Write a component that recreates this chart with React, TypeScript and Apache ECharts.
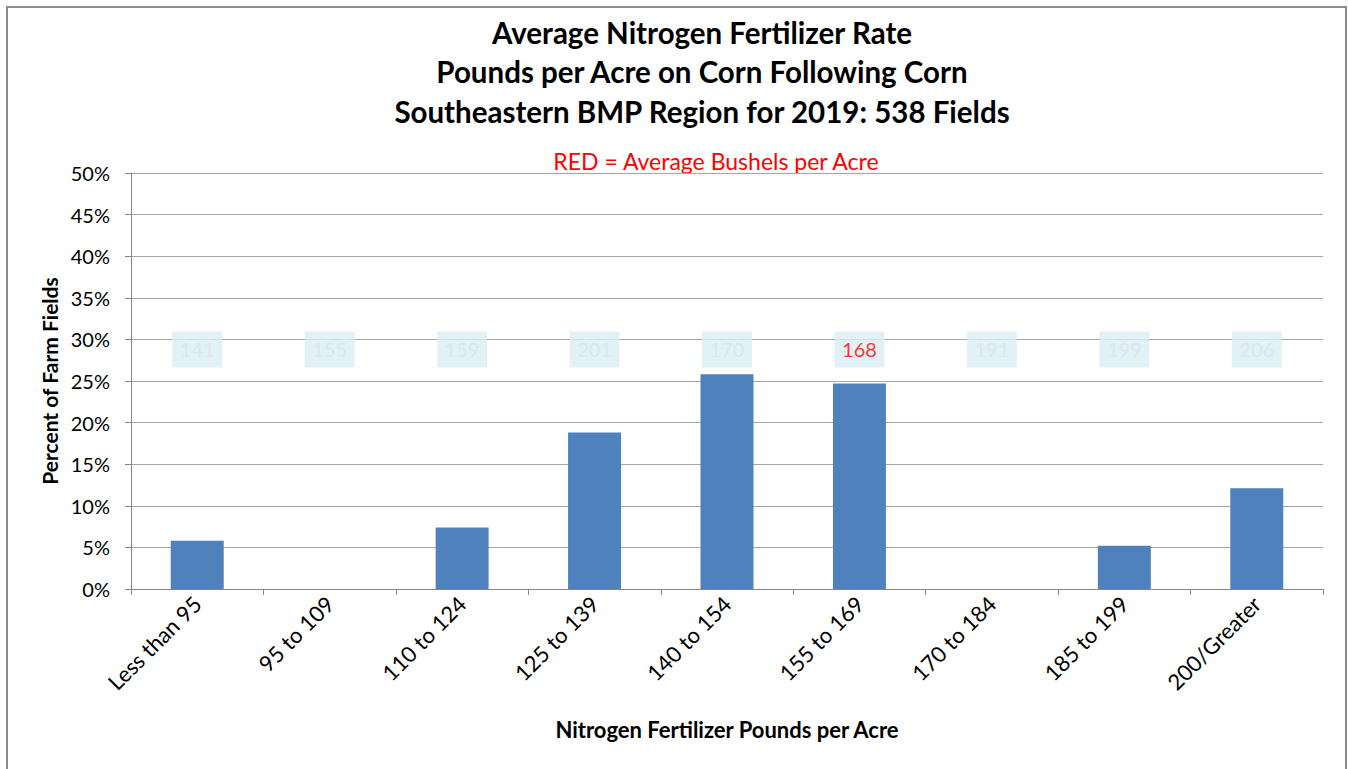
import React, { useEffect, useRef } from "react";
import * as echarts from "echarts";

const categories = [
  "Less than 95",
  "95 to 109",
  "110 to 124",
  "125 to 139",
  "140 to 154",
  "155 to 169",
  "170 to 184",
  "185 to 199",
  "200/Greater",
];
const percentFields = [5.8, 0, 7.4, 18.8, 25.8, 24.7, 0, 5.2, 12.1];
const bushels = [141, 155, 159, 201, 170, 168, 191, 199, 206];
const highlighted = [false, false, false, false, false, true, false, false, false];
const yTicks = [0, 5, 10, 15, 20, 25, 30, 35, 40, 45, 50];
const LABEL_LEVEL = 28.8;

const titleLines = [
  "Average Nitrogen Fertilizer Rate",
  "Pounds per Acre on Corn Following Corn",
  "Southeastern BMP Region for 2019: 538 Fields",
];
const subTitle = "RED = Average Bushels per Acre";

const FONT = "Lato, 'Open Sans', sans-serif";

export default function App() {
  const ref = useRef<HTMLDivElement>(null);
  useEffect(() => {
    if (!ref.current) return;
    const chart = echarts.init(ref.current, null, { renderer: "svg" });
    chart.setOption({
      animation: false,
      backgroundColor: "#ffffff",
      textStyle: { fontFamily: FONT },
      graphic: [
        {
          type: "rect",
          shape: { x: 7, y: 7, width: 1339, height: 780 },
          style: { fill: "none", stroke: "#8c8c8c", lineWidth: 2 },
          silent: true,
        },
        ...titleLines.map((t, i) => ({
          type: "text",
          x: 702,
          y: 32 + i * 39.5,
          style: {
            text: t,
            fill: "#000000",
            font: `bold 29.5px ${FONT}`,
            textAlign: "center",
            textVerticalAlign: "middle",
          },
        })),
        {
          type: "text",
          x: 716,
          y: 161,
          style: {
            text: subTitle,
            fill: "#ff0000",
            font: `23px ${FONT}`,
            textAlign: "center",
            textVerticalAlign: "middle",
          },
        },
      ],
      grid: { left: 131, right: 25, top: 173, bottom: 180 },
      xAxis: {
        type: "category",
        data: categories,
        name: "Nitrogen Fertilizer Pounds per Acre",
        nameLocation: "middle",
        nameGap: 129,
        nameTextStyle: { fontWeight: "bold", fontSize: 22, color: "#000", fontFamily: FONT },
        axisLine: { lineStyle: { color: "#868686", width: 1 } },
        axisTick: { show: true, length: 6, alignWithLabel: false, lineStyle: { color: "#868686" } },
        axisLabel: {
          rotate: 45,
          fontSize: 22,
          color: "#000",
          margin: 11,
          interval: 0,
          fontFamily: FONT,
        },
      },
      yAxis: {
        type: "value",
        min: 0,
        max: 50,
        interval: 5,
        name: "Percent of Farm Fields",
        nameLocation: "middle",
        nameGap: 70,
        nameTextStyle: { fontWeight: "bold", fontSize: 21, color: "#000", fontFamily: FONT },
        axisLine: { show: true, lineStyle: { color: "#868686" } },
        axisTick: { show: true, length: 6, lineStyle: { color: "#868686" } },
        splitLine: { show: true, lineStyle: { color: "#a6a6a6", width: 1 } },
        axisLabel: {
          fontSize: 20,
          color: "#000",
          margin: 21,
          fontFamily: FONT,
          formatter: (v: number) => (yTicks.includes(v) ? `${v}%` : ""),
        },
      },
      series: [
        {
          type: "bar",
          data: percentFields,
          barCategoryGap: "60%",
          itemStyle: { color: "#4f81bd" },
        },
        {
          type: "scatter",
          symbolSize: 1,
          itemStyle: { color: "rgba(0,0,0,0)" },
          z: 5,
          silent: true,
          data: bushels.map((b, i) => ({
            value: [i, LABEL_LEVEL],
            label: {
              show: true,
              position: "inside",
              formatter: String(b),
              fontSize: 20,
              fontFamily: FONT,
              color: highlighted[i] ? "#ff0000" : "#d8e3ef",
              backgroundColor: "#dbeef4",
              padding: [8, 9],
              width: 32,
              align: "center",
              lineHeight: 20,
            },
          })),
        },
      ],
    });
    return () => chart.dispose();
  }, []);
  return (
    <div
      ref={ref}
      style={{ position: "fixed", left: 0, top: 0, width: 1348, height: 769 }}
    />
  );
}
